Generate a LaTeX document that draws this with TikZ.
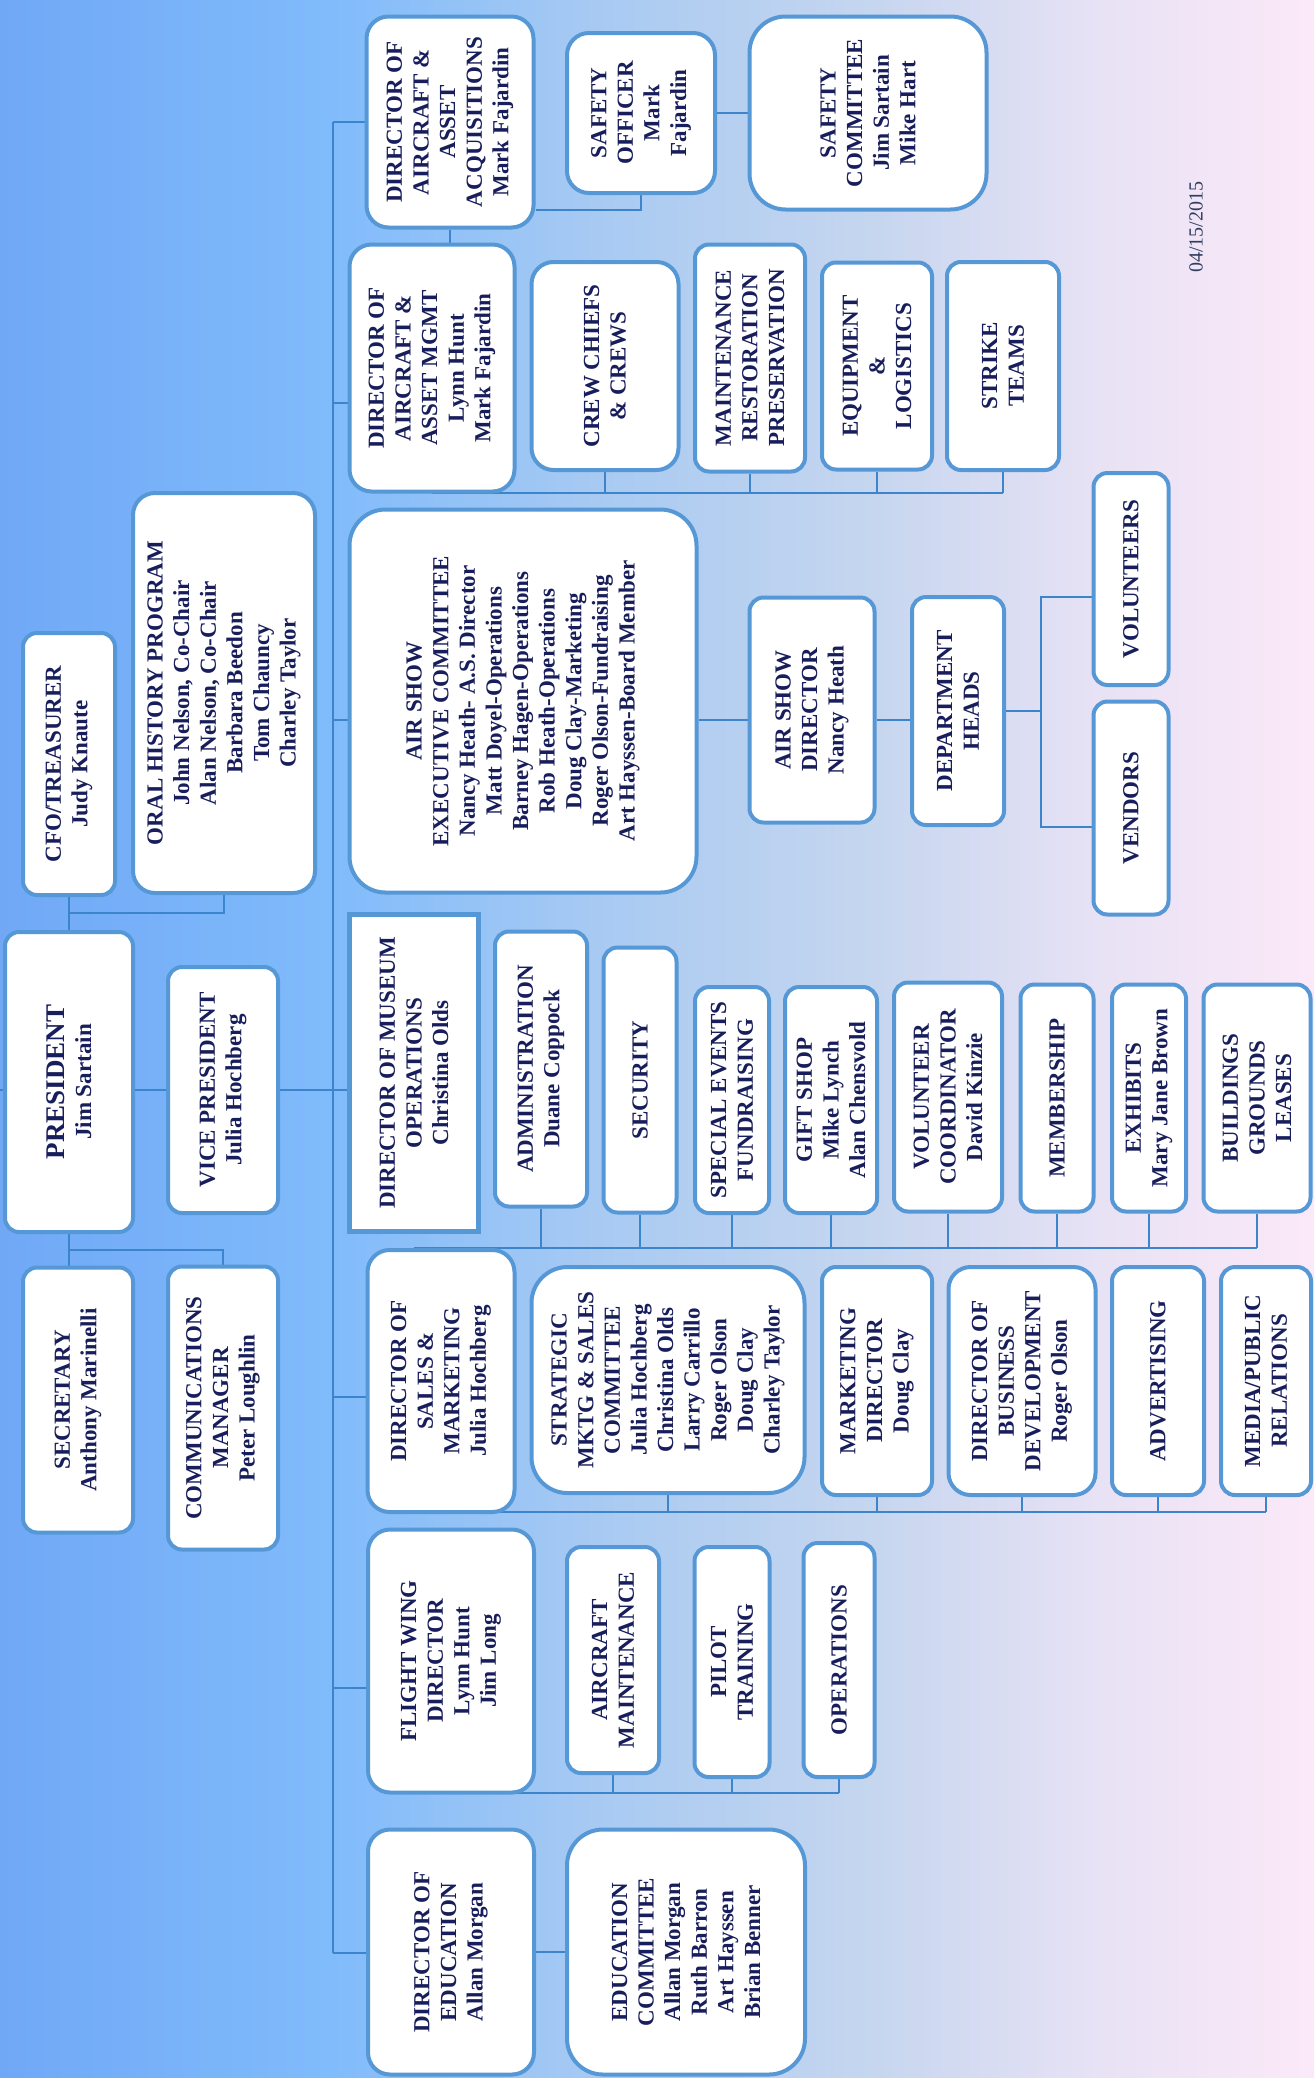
\documentclass[tikz,border=0pt]{standalone}
\usepackage{fontspec}
\setmainfont{Liberation Serif}

\definecolor{boxline}{RGB}{86,152,214}
\definecolor{wireblue}{RGB}{60,132,204}
\definecolor{navy}{RGB}{24,30,92}
\definecolor{dategray}{RGB}{50,62,96}
\definecolor{skyA}{RGB}{112,168,246}
\definecolor{skyB}{RGB}{128,187,251}
\definecolor{skyC}{RGB}{168,202,242}
\definecolor{skyD}{RGB}{198,214,239}
\definecolor{skyE}{RGB}{232,226,245}
\definecolor{skyF}{RGB}{251,233,248}
\pgfdeclarehorizontalshading{skyfade}{100bp}{color(0bp)=(skyA); color(25bp)=(skyA);
    color(37.5bp)=(skyB); color(47.8bp)=(skyC); color(58.3bp)=(skyD);
    color(66.9bp)=(skyE); color(75bp)=(skyF); color(100bp)=(skyF)}

\pgfdeclarelayer{sky}
\pgfdeclarelayer{wires}
\pgfsetlayers{sky,wires,main}

\tikzset{wh/.style 2 args={minimum height=#1*0.5pt, minimum width=#2*0.5pt}} % across / along the text

\begin{document}
\begin{tikzpicture}[
            x = 0.5pt, y = -0.5pt % one unit = one pixel of the chart, y downwards
        ]

        \tikzstyle{orgbox}=[
            draw = boxline,
            line width = 2pt,
            fill = white,
            rounded corners = 7pt,
            rotate = 90, % the chart reads bottom to top
            align = center,
            inner sep = 2pt,
            text = navy,
            font = \bfseries\fontsize{11.5}{13.3}\selectfont
        ]
        \tikzstyle{roundbox}=[orgbox, rounded corners = 11pt]
        \tikzstyle{bigbox}=[orgbox, rounded corners = 18pt]
        \tikzstyle{squarebox}=[orgbox, sharp corners, line width = 2.6pt]
        \tikzstyle{link}=[draw = wireblue, line width = 1.4pt]

        % background
        \begin{pgfonlayer}{sky}
            \shade[shading = skyfade] (0,0) rectangle (1314,2078);
        \end{pgfonlayer}
        \useasboundingbox (0,0) rectangle (1314,2078);

        % board
        \node[orgbox, wh={128}{300}] (pres) at (69,1082) {{\fontsize{13.5}{16}\selectfont PRESIDENT}\\Jim Sartain};
        \node[orgbox, wh={92}{262}] (cfo) at (69,764) {CFO/TREASURER\\Judy Knaute};
        \node[orgbox, wh={110}{265}] (secr) at (78,1400) {SECRETARY\\Anthony Marinelli};
        \node[roundbox, wh={182}{400}] (oral) at (224,693) {ORAL HISTORY PROGRAM\\John Nelson, Co-Chair\\Alan Nelson, Co-Chair\\Barbara Beedon\\Tom Chauncy\\Charley Taylor};
        \node[orgbox, wh={110}{246}] (vp) at (223,1090) {VICE PRESIDENT\\Julia Hochberg};
        \node[orgbox, wh={110}{283}] (comm) at (223,1408) {COMMUNICATIONS\\MANAGER\\Peter Loughlin};

        % directors
        \node[roundbox, wh={167}{211}] (aaq) at (450,122) {DIRECTOR OF\\AIRCRAFT \&\\ASSET\\ACQUISITIONS\\Mark Fajardin};
        \node[roundbox, wh={165}{247}] (amg) at (432,368) {DIRECTOR OF\\AIRCRAFT \&\\ASSET MGMT\\Lynn Hunt\\Mark Fajardin};
        \node[bigbox, wh={347}{383}] (ase) at (523,701) {AIR SHOW\\EXECUTIVE COMMITTEE\\Nancy Heath- A.S. Director\\Matt Doyel-Operations\\Barney Hagen-Operations\\Rob Heath-Operations\\Doug Clay-Marketing\\Roger Olson-Fundraising\\Art Hayssen-Board Member};
        \node[squarebox, wh={129}{317}] (mus) at (414,1073) {DIRECTOR OF MUSEUM\\OPERATIONS\\Christina Olds};
        \node[roundbox, wh={147}{262}] (sal) at (441,1381) {DIRECTOR OF\\SALES \&\\MARKETING\\Julia Hochberg};
        \node[roundbox, wh={166}{263}] (fw) at (451,1661) {FLIGHT WING\\DIRECTOR\\Lynn Hunt\\Jim Long};
        \node[roundbox, wh={166}{245}] (edu) at (451,1952) {DIRECTOR OF\\EDUCATION\\Allan Morgan};

        % aircraft
        \node[roundbox, wh={148}{160}] (so) at (641,113) {SAFETY\\OFFICER\\Mark\\Fajardin};
        \node[bigbox, wh={237}{193}] (sc) at (868,113) {SAFETY\\COMMITTEE\\Jim Sartain\\Mike Hart};
        \node[roundbox, wh={147}{208}] (cc) at (605,366) {CREW CHIEFS\\\& CREWS};
        \node[orgbox, wh={110}{227}] (mrp) at (750,358) {MAINTENANCE\\RESTORATION\\PRESERVATION};
        \node[orgbox, wh={110}{207}] (eql) at (877,366) {EQUIPMENT\\\&\\LOGISTICS};
        \node[orgbox, wh={112}{208}] (st) at (1003,366) {STRIKE\\TEAMS};

        % air show
        \node[orgbox, wh={125}{225}] (asd) at (812,710) {AIR SHOW\\DIRECTOR\\Nancy Heath};
        \node[orgbox, wh={92}{228}] (dh) at (958,711) {DEPARTMENT\\HEADS};
        \node[orgbox, wh={75}{212}] (vol) at (1131,579) {VOLUNTEERS};
        \node[orgbox, wh={75}{213}] (ven) at (1131,808) {VENDORS};

        % museum
        \node[orgbox, wh={92}{275}] (adm) at (541,1069) {ADMINISTRATION\\Duane Coppock};
        \node[orgbox, wh={73}{265}] (secu) at (640,1080) {SECURITY};
        \node[orgbox, wh={74}{226}] (spe) at (732,1100) {SPECIAL EVENTS\\FUNDRAISING};
        \node[orgbox, wh={92}{226}] (gift) at (831,1100) {GIFT SHOP\\Mike Lynch\\Alan Chensvold};
        \node[orgbox, wh={108}{229}] (vco) at (948,1097) {VOLUNTEER\\COORDINATOR\\David Kinzie};
        \node[orgbox, wh={73}{227}] (mem) at (1057,1098) {MEMBERSHIP};
        \node[orgbox, wh={74}{227}] (exh) at (1149,1098) {EXHIBITS\\Mary Jane Brown};
        \node[orgbox, wh={107}{227}] (bgl) at (1257,1098) {BUILDINGS\\GROUNDS\\LEASES};

        % sales
        \node[bigbox, wh={273}{226}] (smc) at (668,1380) {STRATEGIC\\MKTG \& SALES\\COMMITTEE\\Julia Hochberg\\Christina Olds\\Larry Carrillo\\Roger Olson\\Doug Clay\\Charley Taylor};
        \node[orgbox, wh={110}{228}] (mkd) at (877,1381) {MARKETING\\DIRECTOR\\Doug Clay};
        \node[roundbox, wh={147}{228}] (bdv) at (1022,1381) {DIRECTOR OF\\BUSINESS\\DEVELOPMENT\\Roger Olson};
        \node[orgbox, wh={92}{228}] (adv) at (1158,1381) {ADVERTISING};
        \node[orgbox, wh={90}{228}] (mpr) at (1266,1381) {MEDIA/PUBLIC\\RELATIONS};

        % flight wing
        \node[orgbox, wh={92}{226}] (acm) at (613,1660) {AIRCRAFT\\MAINTENANCE};
        \node[orgbox, wh={75}{230}] (plt) at (732,1662) {PILOT\\TRAINING};
        \node[orgbox, wh={71}{234}] (ops) at (839,1660) {OPERATIONS};

        % education
        \node[bigbox, wh={238}{245}] (edc) at (686,1952) {EDUCATION\\COMMITTEE\\Allan Morgan\\Ruth Barron\\Art Hayssen\\Brian Benner};

        \node[rotate = 90, text = dategray, font = \fontsize{10}{12}\selectfont] (date) at (1196,227) {04/15/2015};

        \begin{pgfonlayer}{wires}
            % trunk
            \coordinate (ttop) at (333,122);
            \coordinate (tbot) at (333,1953);
            \draw[link] (ttop) -- (tbot);
            \foreach \n/\y in {aaq/122, amg/403, ase/720, mus/1090, sal/1397, fw/1688, edu/1953}
                \draw[link] (ttop |- 0,\y) -- (\n.north |- 0,\y);

            % president
            \coordinate (offleft) at (0,1090);
            \draw[link] (offleft) -- (pres.north |- offleft);
            \draw[link] (cfo.west) -- (pres.east);
            \draw[link] (cfo.west |- 0,913) -| (oral.west);
            \draw[link] (pres.west) -- (pres.west |- secr.east);
            \draw[link] (pres.west |- 0,1250) -| (comm.east);
            \draw[link] (pres.south |- vp.north) -- (vp.north);
            \draw[link] (vp.south) -- (mus.north |- vp.south);

            % aircraft
            \draw[link] (aaq.west) -- (aaq.west |- amg.east);
            \draw[link] (aaq.south |- 0,210) -| (so.west);
            \draw[link] (so.south) -- (so.south -| sc.north);
            \draw[link] (amg.center |- 0,493) -- (st.west |- 0,493);
            \foreach \k in {cc, mrp, eql, st}
                \draw[link] (\k.west) -- (\k.west |- 0,493);

            % air show
            \draw[link] (ase.south |- 0,720) -- (asd.north |- 0,720);
            \draw[link] (asd.south |- 0,720) -- (dh.north |- 0,720);
            \coordinate (dhfork) at (1041,711);
            \draw[link] (dh.south) -- (dhfork);
            \draw[link] (vol.north |- 0,597) -| (dhfork) |- (ven.north |- 0,827);

            % museum
            \draw[link] (mus.center |- 0,1248) -- (bgl.west |- 0,1248);
            \foreach \k in {adm, secu, spe, gift, vco, mem, exh, bgl}
                \draw[link] (\k.west) -- (\k.west |- 0,1248);

            % sales
            \draw[link] (sal.center |- 0,1512) -- (mpr.west |- 0,1512);
            \foreach \k in {smc, mkd, bdv, adv, mpr}
                \draw[link] (\k.west) -- (\k.west |- 0,1512);

            % flight wing
            \draw[link] (fw.center |- 0,1793) -- (ops.west |- 0,1793);
            \foreach \k in {acm, plt, ops}
                \draw[link] (\k.west) -- (\k.west |- 0,1793);

            % education
            \draw[link] (edu.south) -- (edu.south -| edc.north);
        \end{pgfonlayer}
    \end{tikzpicture}
\end{document}
